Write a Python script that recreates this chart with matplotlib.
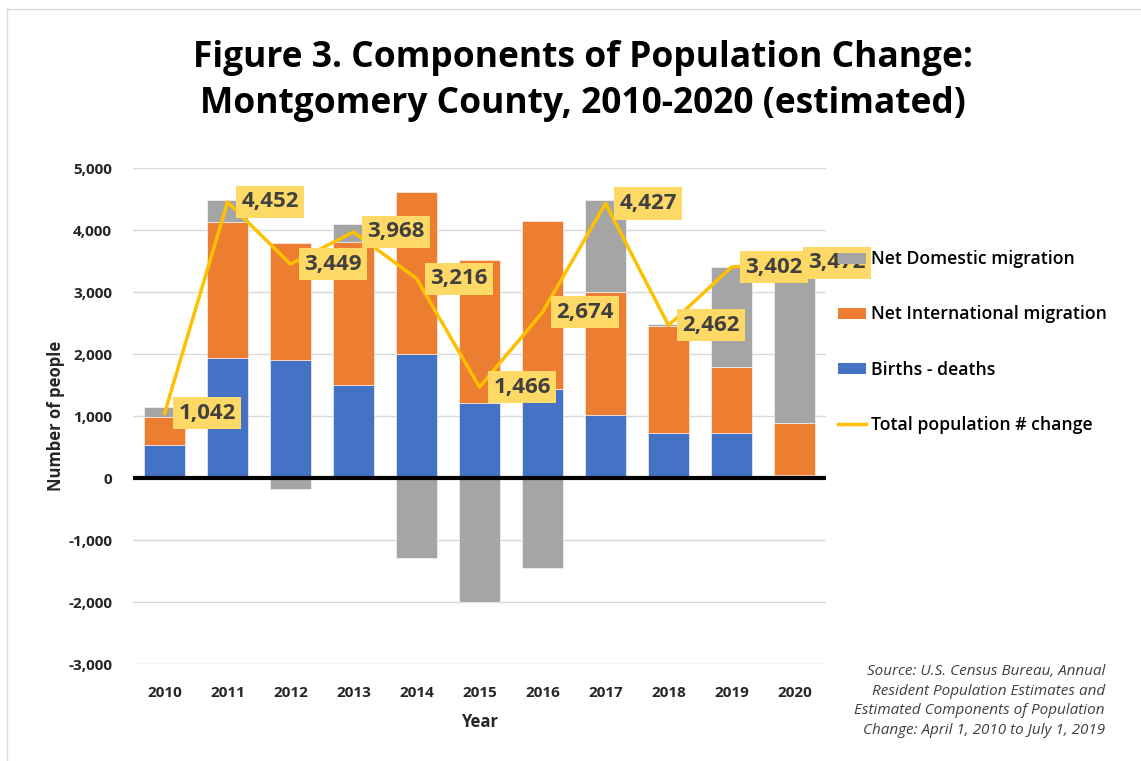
#!/usr/bin/env python3
"""Components of population change, Montgomery County 2010-2020 (estimated)."""

import matplotlib
matplotlib.use("Agg")
import matplotlib.pyplot as plt
import numpy as np
from matplotlib.lines import Line2D
from matplotlib.patches import Patch
from matplotlib.ticker import FuncFormatter

plt.rcParams["font.family"] = ["Open Sans", "DejaVu Sans"]

years = ["2010", "2011", "2012", "2013", "2014", "2015",
         "2016", "2017", "2018", "2019", "2020"]
births_deaths = [540, 1940, 1900, 1505, 2005, 1215, 1430, 1010, 720, 720, 45]
net_international = [450, 2185, 1890, 2295, 2600, 2300, 2715, 1995, 1730, 1070, 850]
net_domestic = [150, 365, -180, 290, -1290, -2000, -1450, 1485, 40, 1610, 2720]
total_change = [1042, 4452, 3449, 3968, 3216, 1466, 2674, 4427, 2462, 3402, 3472]

BLUE = "#4472C4"
ORANGE = "#ED7D31"
GRAY = "#A5A5A5"
GOLD = "#FFC000"
LABEL_BG = "#FFD966"
TEXT = "#262626"

fig = plt.figure(figsize=(11.41, 7.61), dpi=100)
ax = fig.add_axes([133 / 1141, 1 - 664 / 761, (826 - 133) / 1141, (664 - 168) / 761])

x = np.arange(len(years))
width = 0.65
bd = np.array(births_deaths)
intl = np.array(net_international)
dom = np.array(net_domestic)

# Excel stacks negatives below zero separately
dom_bottom = np.where(dom >= 0, bd + intl, 0)

ax.bar(x, bd, width, color=BLUE, edgecolor="white", linewidth=0.4, zorder=2)
ax.bar(x, intl, width, bottom=bd, color=ORANGE, edgecolor="white", linewidth=0.4, zorder=2)
ax.bar(x, dom, width, bottom=dom_bottom, color=GRAY, edgecolor="white", linewidth=0.4, zorder=2)
ax.plot(x, total_change, color=GOLD, linewidth=2.5, zorder=3)

for xi, val in zip(x, total_change):
    ax.annotate(f"{val:,}", (xi, val), xytext=(10, 0), textcoords="offset points",
                ha="left", va="center", fontsize=16, fontweight="bold", color="#404040",
                bbox=dict(boxstyle="square,pad=0.25", facecolor=LABEL_BG, edgecolor="none"),
                zorder=4)

ax.set_xlim(-0.5, len(years) - 0.5)
ax.set_ylim(-3000, 5000)
ax.set_yticks(np.arange(-3000, 5001, 1000))
ax.yaxis.set_major_formatter(FuncFormatter(lambda v, _: f"{int(v):,}"))
ax.set_xticks(x)
ax.set_xticklabels(years)
ax.grid(axis="y", color="#D9D9D9", linewidth=1, zorder=0)
ax.axhline(0, color="black", linewidth=3, zorder=3)
for side in ax.spines.values():
    side.set_visible(False)
ax.tick_params(length=0, labelsize=11, colors=TEXT)
ax.tick_params(axis="y", pad=15)
ax.tick_params(axis="x", pad=16)
for lab in ax.get_xticklabels() + ax.get_yticklabels():
    lab.set_fontweight("bold")

ax.set_xlabel("Year", fontsize=12, fontweight="bold", color=TEXT, labelpad=9)
ax.set_ylabel("Number of people", fontsize=12, fontweight="bold", color=TEXT, labelpad=2)

fig.text(583 / 1141, 1 - 58 / 761, "Figure 3. Components of Population Change:",
         ha="center", va="center", fontsize=25.5, fontweight="bold", color="black")
fig.text(583 / 1141, 1 - 104 / 761, "Montgomery County, 2010-2020 (estimated)",
         ha="center", va="center", fontsize=25.5, fontweight="bold", color="black")

handles = [
    Patch(facecolor=GRAY, label="Net Domestic migration"),
    Patch(facecolor=ORANGE, label="Net International migration"),
    Patch(facecolor=BLUE, label="Births - deaths"),
    Line2D([0], [0], color=GOLD, linewidth=2.5, label="Total population # change"),
]
leg = fig.legend(handles=handles, loc="center left", bbox_to_anchor=(822 / 1141, 1 - 342 / 761),
                 frameon=False, fontsize=12.7, labelspacing=2.1, handlelength=1.6,
                 handletextpad=0.25, handleheight=0.6)
for t in leg.get_texts():
    t.set_fontweight("semibold")
    t.set_color("black")
leg.set_zorder(10)

source = ("Source: U.S. Census Bureau, Annual\n"
          "Resident Population Estimates and\n"
          "Estimated Components of Population\n"
          "Change: April 1, 2010 to July 1, 2019")
fig.text(1105 / 1141, 1 - 701 / 761, source, ha="right", va="center", fontsize=11,
         style="italic", color="#404040", linespacing=1.4)

# chart frame
fig.add_artist(Line2D([7 / 1141, 1], [1 - 9 / 761, 1 - 9 / 761], color="#D9D9D9", linewidth=1))
fig.add_artist(Line2D([7 / 1141, 7 / 1141], [0, 1 - 9 / 761], color="#D9D9D9", linewidth=1))

fig.savefig("out.png", dpi=100)
